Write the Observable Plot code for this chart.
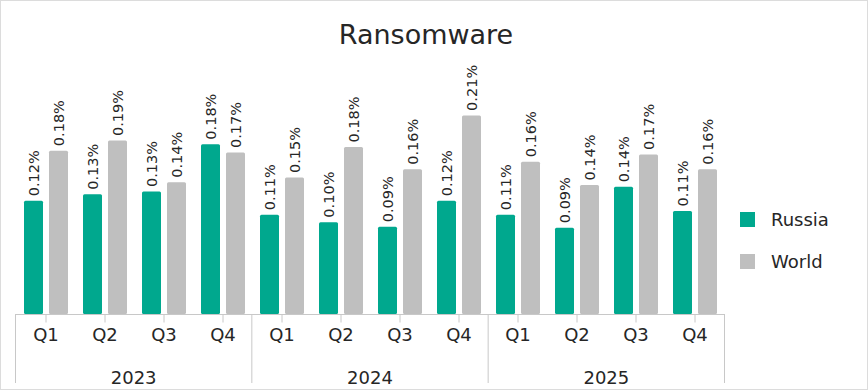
<!DOCTYPE html>
<html>
<head>
<meta charset="utf-8">
<script src="https://cdn.jsdelivr.net/npm/d3@7"></script>
<script src="https://cdn.jsdelivr.net/npm/@observablehq/plot@0.6"></script>
<style>
  body { margin: 0; background: #fff; }
  #wrap { position: relative; width: 868px; height: 390px; overflow: hidden; font-family: "DejaVu Sans", sans-serif; color: #262626; background: #fff; }
  #wrap svg { position: absolute; left: 0; top: 0; }
  #title { position: absolute; left: 0; top: 21px; width: 852px; text-align: center; font-size: 27px; line-height: 27px; color: #262626; }
  .lg { position: absolute; left: 740px; height: 18px; display: flex; align-items: center; font-size: 18px; line-height: 18px; color: #262626; }
  .lg .sw { width: 15px; height: 15px; margin-right: 16px; }
  #border { position: absolute; left: 0; top: 0; width: 868px; height: 390px; box-sizing: border-box; border: 1px solid #dcdcdc; pointer-events: none; }
</style>
</head>
<body>
<div id="wrap"></div>
<script>
const years = ["2023", "2024", "2025"];
const quarters = ["Q1", "Q2", "Q3", "Q4"];
const series = ["Russia", "World"];
const seriesColors = ["#00a88e", "#bfbfbf"];
const russia = [0.122, 0.129, 0.132, 0.183, 0.107, 0.099, 0.094, 0.122, 0.107, 0.093, 0.137, 0.111];
const world  = [0.176, 0.187, 0.142, 0.174, 0.147, 0.180, 0.156, 0.214, 0.164, 0.139, 0.172, 0.156];
const titleText = "Ransomware";

const periods = years.flatMap(y => quarters.map(q => `${y} ${q}`));
const rows = periods.flatMap((p, i) => [
  {period: p, series: series[0], value: russia[i]},
  {period: p, series: series[1], value: world[i]}
]);

const W = 868, H = 390, ML = 15, MR = 144, MB = 76;
const font = "DejaVu Sans, sans-serif";

const chart = Plot.plot({
  width: W, height: H,
  marginLeft: ML, marginRight: MR, marginTop: 35.6, marginBottom: MB,
  style: {fontFamily: font, background: "transparent"},
  fx: {domain: periods, padding: 0, label: null},
  x: {domain: series, paddingInner: 0.24, paddingOuter: 0.3, axis: null},
  y: {domain: [0, 0.3], axis: null},
  color: {domain: series, range: seriesColors},
  marks: [
    Plot.barY(rows, {fx: "period", x: "series", y: "value", fill: "series", rx: 1.5}),
    Plot.text(rows, {
      fx: "period", x: "series", y: "value",
      text: d => d3.format(".2f")(d.value) + "%",
      rotate: -90, textAnchor: "start", dy: -5,
      fontSize: 14.5, fill: "#262626"
    }),
    Plot.ruleY([0], {stroke: "#c8c8c8"}),
    Plot.axisFx({
      anchor: "bottom", label: null, tickSize: 8.5, tickPadding: 5.5,
      tickFormat: p => p.split(" ")[1], fontSize: 18,
      stroke: "#c8c8c8", fill: "#262626"
    })
  ]
});

const bounds = years.map((y, i) => i * quarters.length).concat([periods.length]);
const centers = years.map((y, i) => ({year: y, pos: i * quarters.length + quarters.length / 2}));

const lower = Plot.plot({
  width: W, height: H,
  marginLeft: ML, marginRight: MR, marginTop: 314, marginBottom: 7,
  style: {fontFamily: font, background: "transparent"},
  x: {domain: [0, periods.length], axis: null},
  marks: [
    Plot.ruleX(bounds, {stroke: "#c8c8c8"}),
    Plot.text(centers, {x: "pos", text: "year", frameAnchor: "bottom", lineAnchor: "bottom", fontSize: 18, fill: "#262626"})
  ]
});

const wrap = document.getElementById("wrap");
wrap.appendChild(chart);
wrap.appendChild(lower);

const title = document.createElement("div");
title.id = "title";
title.textContent = titleText;
wrap.appendChild(title);

const colorScale = chart.scale("color");
const legendTops = [210.5, 252.5];
colorScale.domain.forEach((s, i) => {
  const row = document.createElement("div");
  row.className = "lg";
  row.style.top = legendTops[i] + "px";
  const sw = document.createElement("div");
  sw.className = "sw";
  sw.style.background = colorScale.range[i];
  const label = document.createElement("span");
  label.textContent = s;
  row.appendChild(sw);
  row.appendChild(label);
  wrap.appendChild(row);
});

const border = document.createElement("div");
border.id = "border";
wrap.appendChild(border);
</script>
</body>
</html>
